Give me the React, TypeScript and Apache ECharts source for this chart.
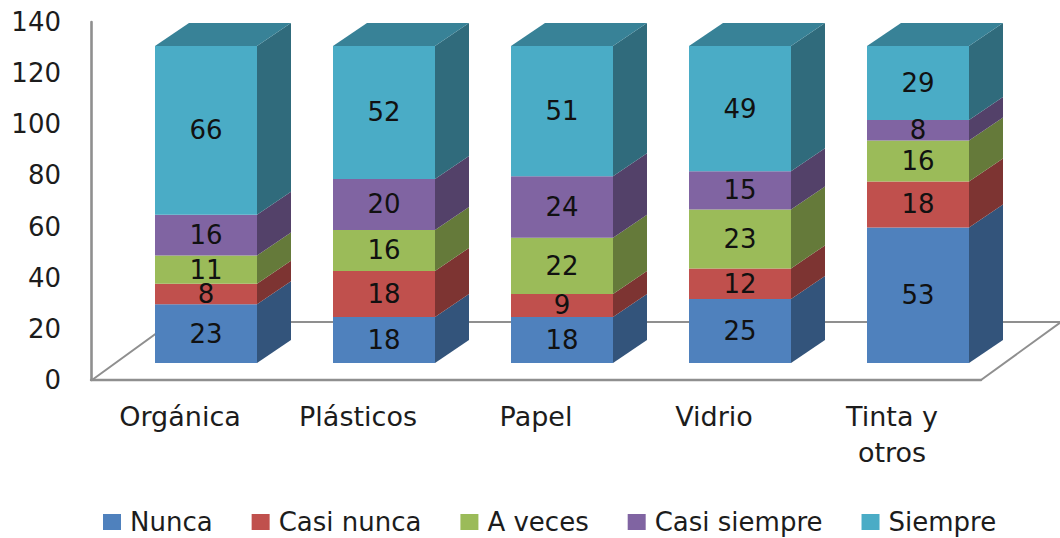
import React, { useEffect, useRef } from "react";
import * as echarts from "echarts";

const categories = ["Orgánica", "Plásticos", "Papel", "Vidrio", "Tinta y\notros"];
const nunca = [23, 18, 18, 25, 53];
const casiNunca = [8, 18, 9, 12, 18];
const aVeces = [11, 16, 22, 23, 16];
const casiSiempre = [16, 20, 24, 15, 8];
const siempre = [66, 52, 51, 49, 29];
const seriesNames = ["Nunca", "Casi nunca", "A veces", "Casi siempre", "Siempre"];
const seriesValues = [nunca, casiNunca, aVeces, casiSiempre, siempre];
const frontColors = ["#4f81bd", "#c0504d", "#9bbb59", "#8064a2", "#4aacc6"];
const sideColors = ["#33547b", "#7d3432", "#657a3a", "#534169", "#306b7c"];
const topColor = "#388297";
const yTicks = { min: 0, max: 140, interval: 20 };

const FONT = "DejaVu Sans";
const TEXT = "#1c1c1c";
const FRAME = "#8f8f8f";
const BAR_WIDTH = 102;
// Oblique projection: the box depth, and where the boxes sit on the floor.
const DEPTH_X = 34;
const DEPTH_Y = -23;
const INSET_X = 26;
const INSET_Y = -17;
const FLOOR_X = 80;
const FLOOR_Y = -58;

function renderFloor(params: any) {
  const { x, y, width, height } = params.coordSys;
  const bottom = y + height;
  return {
    type: "polyline",
    silent: true,
    shape: {
      points: [
        [x + 1, bottom],
        [x + 1 + FLOOR_X, bottom + FLOOR_Y],
        [x + width + FLOOR_X, bottom + FLOOR_Y],
        [x + width, bottom],
      ],
    },
    style: { fill: "none", stroke: FRAME, lineWidth: 2 },
  };
}

function makeBoxRenderer(seriesIndex: number, isTop: boolean) {
  return (_params: any, api: any) => {
    const cat = api.value(0);
    const base = api.value(1);
    const value = api.value(2);
    const lower = api.coord([cat, base]);
    const upper = api.coord([cat, base + value]);
    const x0 = lower[0] + INSET_X - BAR_WIDTH / 2;
    const x1 = x0 + BAR_WIDTH;
    const y0 = upper[1] + INSET_Y;
    const y1 = lower[1] + INSET_Y;
    const children: any[] = [
      {
        type: "polygon",
        shape: {
          points: [
            [x1, y0],
            [x1 + DEPTH_X, y0 + DEPTH_Y],
            [x1 + DEPTH_X, y1 + DEPTH_Y],
            [x1, y1],
          ],
        },
        style: { fill: sideColors[seriesIndex] },
      },
      {
        type: "rect",
        shape: { x: x0, y: y0, width: BAR_WIDTH, height: y1 - y0 },
        style: { fill: frontColors[seriesIndex] },
      },
    ];
    if (isTop) {
      children.push({
        type: "polygon",
        shape: {
          points: [
            [x0, y0],
            [x0 + DEPTH_X, y0 + DEPTH_Y],
            [x1 + DEPTH_X, y0 + DEPTH_Y],
            [x1, y0],
          ],
        },
        style: { fill: topColor },
      });
    }
    children.push({
      type: "text",
      z2: 10,
      style: {
        x: (x0 + x1) / 2,
        y: (y0 + y1) / 2,
        text: String(value),
        fill: "#111111",
        font: `26px "${FONT}"`,
        textAlign: "center",
        textVerticalAlign: "middle",
      },
    });
    return { type: "group", children };
  };
}

function buildSeries() {
  const running = categories.map(() => 0);
  return seriesValues.map((values, s) => {
    const data = values.map((v, i) => {
      const row = [i, running[i], v];
      running[i] += v;
      return row;
    });
    return {
      type: "custom",
      name: seriesNames[s],
      coordinateSystem: "cartesian2d",
      itemStyle: { color: frontColors[s] },
      encode: { x: 0, y: [1, 2] },
      renderItem: makeBoxRenderer(s, s === seriesValues.length - 1),
      data,
    };
  });
}

export default function App() {
  const ref = useRef<HTMLDivElement>(null);

  useEffect(() => {
    if (!ref.current) return;
    const chart = echarts.init(ref.current, undefined, { renderer: "svg" });
    chart.setOption({
      animation: false,
      backgroundColor: "#ffffff",
      grid: { left: 91, top: 22, width: 890, height: 358, containLabel: false },
      legend: {
        data: seriesNames,
        left: 98,
        top: 504,
        icon: "rect",
        itemWidth: 18,
        itemHeight: 16,
        itemGap: 39,
        textStyle: { fontFamily: FONT, fontSize: 26, color: TEXT, padding: [0, 0, 0, 4] },
      },
      xAxis: {
        type: "category",
        data: categories,
        axisTick: { show: false },
        axisLine: { show: true, onZero: false, lineStyle: { color: FRAME, width: 2.4 } },
        axisLabel: {
          fontFamily: FONT,
          fontSize: 27,
          color: TEXT,
          margin: 18,
          lineHeight: 36,
          interval: 0,
        },
      },
      yAxis: {
        type: "value",
        ...yTicks,
        splitLine: { show: false },
        axisTick: { show: false },
        axisLine: { show: true, lineStyle: { color: FRAME, width: 2.6 } },
        axisLabel: { fontFamily: FONT, fontSize: 26, color: TEXT, margin: 30 },
      },
      series: [
        {
          type: "custom",
          coordinateSystem: "cartesian2d",
          silent: true,
          renderItem: renderFloor,
          data: [[0, 0]],
          encode: { x: 0, y: 1 },
        },
        ...buildSeries(),
      ],
    });
    return () => chart.dispose();
  }, []);

  return (
    <div
      ref={ref}
      style={{ position: "absolute", left: 0, top: 0, width: 1060, height: 538 }}
    />
  );
}
